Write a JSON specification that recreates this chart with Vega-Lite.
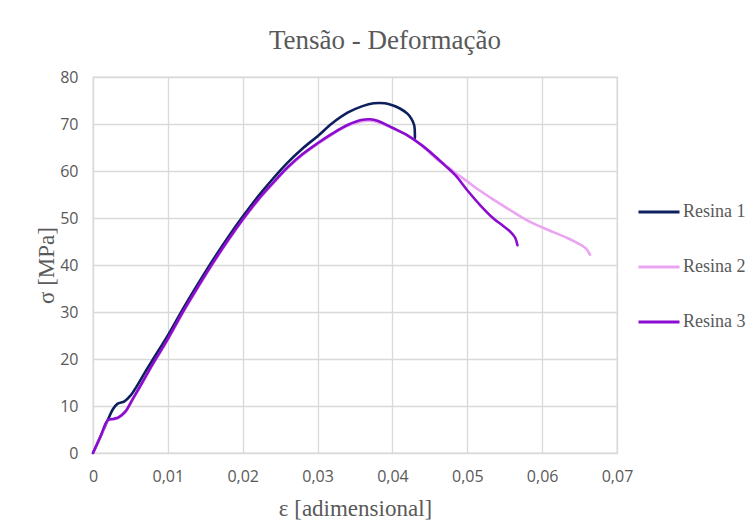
{
  "$schema": "https://vega.github.io/schema/vega-lite/v6.json",
  "width": 524,
  "height": 376,
  "autosize": "none",
  "padding": {"left": 93, "top": 77, "right": 132, "bottom": 76},
  "background": "white",
  "title": {"text": "Tensão - Deformação", "font": "Liberation Serif", "fontSize": 27, "fontWeight": "normal", "color": "#595959", "anchor": "middle", "dx": 30, "offset": 14},
  "datasets": {
    "curvas": [
      {"serie": "Resina 1", "deformacao": 0, "tensao": 0},
      {"serie": "Resina 1", "deformacao": 0.001, "tensao": 3.5},
      {"serie": "Resina 1", "deformacao": 0.002, "tensao": 7.1},
      {"serie": "Resina 1", "deformacao": 0.0027, "tensao": 9.4},
      {"serie": "Resina 1", "deformacao": 0.0033, "tensao": 10.5},
      {"serie": "Resina 1", "deformacao": 0.0042, "tensao": 11.0},
      {"serie": "Resina 1", "deformacao": 0.005, "tensao": 12.2},
      {"serie": "Resina 1", "deformacao": 0.006, "tensao": 14.6},
      {"serie": "Resina 1", "deformacao": 0.007, "tensao": 17.3},
      {"serie": "Resina 1", "deformacao": 0.008, "tensao": 19.9},
      {"serie": "Resina 1", "deformacao": 0.010, "tensao": 25.0},
      {"serie": "Resina 1", "deformacao": 0.012, "tensao": 30.6},
      {"serie": "Resina 1", "deformacao": 0.014, "tensao": 35.9},
      {"serie": "Resina 1", "deformacao": 0.016, "tensao": 41.0},
      {"serie": "Resina 1", "deformacao": 0.018, "tensao": 45.8},
      {"serie": "Resina 1", "deformacao": 0.020, "tensao": 50.3},
      {"serie": "Resina 1", "deformacao": 0.022, "tensao": 54.5},
      {"serie": "Resina 1", "deformacao": 0.024, "tensao": 58.3},
      {"serie": "Resina 1", "deformacao": 0.026, "tensao": 61.8},
      {"serie": "Resina 1", "deformacao": 0.028, "tensao": 64.8},
      {"serie": "Resina 1", "deformacao": 0.030, "tensao": 67.4},
      {"serie": "Resina 1", "deformacao": 0.032, "tensao": 70.2},
      {"serie": "Resina 1", "deformacao": 0.034, "tensao": 72.4},
      {"serie": "Resina 1", "deformacao": 0.036, "tensao": 73.8},
      {"serie": "Resina 1", "deformacao": 0.0375, "tensao": 74.4},
      {"serie": "Resina 1", "deformacao": 0.039, "tensao": 74.4},
      {"serie": "Resina 1", "deformacao": 0.040, "tensao": 74.0},
      {"serie": "Resina 1", "deformacao": 0.041, "tensao": 73.3},
      {"serie": "Resina 1", "deformacao": 0.042, "tensao": 72.2},
      {"serie": "Resina 1", "deformacao": 0.0425, "tensao": 71.2},
      {"serie": "Resina 1", "deformacao": 0.0429, "tensao": 69.8},
      {"serie": "Resina 1", "deformacao": 0.0430, "tensao": 67.0},
      {"serie": "Resina 2", "deformacao": 0, "tensao": 0},
      {"serie": "Resina 2", "deformacao": 0.001, "tensao": 3.4},
      {"serie": "Resina 2", "deformacao": 0.002, "tensao": 6.9},
      {"serie": "Resina 2", "deformacao": 0.0028, "tensao": 7.2},
      {"serie": "Resina 2", "deformacao": 0.0034, "tensao": 7.5},
      {"serie": "Resina 2", "deformacao": 0.0043, "tensao": 8.6},
      {"serie": "Resina 2", "deformacao": 0.0052, "tensao": 11.0},
      {"serie": "Resina 2", "deformacao": 0.006, "tensao": 13.2},
      {"serie": "Resina 2", "deformacao": 0.007, "tensao": 16.0},
      {"serie": "Resina 2", "deformacao": 0.008, "tensao": 18.8},
      {"serie": "Resina 2", "deformacao": 0.010, "tensao": 24.1},
      {"serie": "Resina 2", "deformacao": 0.012, "tensao": 29.8},
      {"serie": "Resina 2", "deformacao": 0.014, "tensao": 35.1},
      {"serie": "Resina 2", "deformacao": 0.016, "tensao": 40.2},
      {"serie": "Resina 2", "deformacao": 0.018, "tensao": 45.0},
      {"serie": "Resina 2", "deformacao": 0.020, "tensao": 49.5},
      {"serie": "Resina 2", "deformacao": 0.022, "tensao": 53.6},
      {"serie": "Resina 2", "deformacao": 0.024, "tensao": 57.2},
      {"serie": "Resina 2", "deformacao": 0.026, "tensao": 60.6},
      {"serie": "Resina 2", "deformacao": 0.028, "tensao": 63.4},
      {"serie": "Resina 2", "deformacao": 0.030, "tensao": 65.7},
      {"serie": "Resina 2", "deformacao": 0.032, "tensao": 67.8},
      {"serie": "Resina 2", "deformacao": 0.034, "tensao": 69.6},
      {"serie": "Resina 2", "deformacao": 0.036, "tensao": 70.6},
      {"serie": "Resina 2", "deformacao": 0.037, "tensao": 70.7},
      {"serie": "Resina 2", "deformacao": 0.038, "tensao": 70.4},
      {"serie": "Resina 2", "deformacao": 0.040, "tensao": 69.1},
      {"serie": "Resina 2", "deformacao": 0.042, "tensao": 67.6},
      {"serie": "Resina 2", "deformacao": 0.044, "tensao": 65.3},
      {"serie": "Resina 2", "deformacao": 0.046, "tensao": 62.4},
      {"serie": "Resina 2", "deformacao": 0.047, "tensao": 61.3},
      {"serie": "Resina 2", "deformacao": 0.048, "tensao": 60.1},
      {"serie": "Resina 2", "deformacao": 0.049, "tensao": 58.9},
      {"serie": "Resina 2", "deformacao": 0.050, "tensao": 57.8},
      {"serie": "Resina 2", "deformacao": 0.0515, "tensao": 56.0},
      {"serie": "Resina 2", "deformacao": 0.0535, "tensao": 53.9},
      {"serie": "Resina 2", "deformacao": 0.0555, "tensao": 51.9},
      {"serie": "Resina 2", "deformacao": 0.058, "tensao": 49.5},
      {"serie": "Resina 2", "deformacao": 0.060, "tensao": 48.0},
      {"serie": "Resina 2", "deformacao": 0.0615, "tensao": 47.0},
      {"serie": "Resina 2", "deformacao": 0.0633, "tensao": 45.8},
      {"serie": "Resina 2", "deformacao": 0.0648, "tensao": 44.6},
      {"serie": "Resina 2", "deformacao": 0.0658, "tensao": 43.6},
      {"serie": "Resina 2", "deformacao": 0.0664, "tensao": 42.2},
      {"serie": "Resina 3", "deformacao": 0, "tensao": 0},
      {"serie": "Resina 3", "deformacao": 0.001, "tensao": 3.5},
      {"serie": "Resina 3", "deformacao": 0.002, "tensao": 7.0},
      {"serie": "Resina 3", "deformacao": 0.0028, "tensao": 7.3},
      {"serie": "Resina 3", "deformacao": 0.0034, "tensao": 7.6},
      {"serie": "Resina 3", "deformacao": 0.0043, "tensao": 8.8},
      {"serie": "Resina 3", "deformacao": 0.0052, "tensao": 11.2},
      {"serie": "Resina 3", "deformacao": 0.006, "tensao": 13.4},
      {"serie": "Resina 3", "deformacao": 0.007, "tensao": 16.2},
      {"serie": "Resina 3", "deformacao": 0.008, "tensao": 19.0},
      {"serie": "Resina 3", "deformacao": 0.010, "tensao": 24.3},
      {"serie": "Resina 3", "deformacao": 0.012, "tensao": 30.0},
      {"serie": "Resina 3", "deformacao": 0.014, "tensao": 35.3},
      {"serie": "Resina 3", "deformacao": 0.016, "tensao": 40.4},
      {"serie": "Resina 3", "deformacao": 0.018, "tensao": 45.2},
      {"serie": "Resina 3", "deformacao": 0.020, "tensao": 49.7},
      {"serie": "Resina 3", "deformacao": 0.022, "tensao": 53.8},
      {"serie": "Resina 3", "deformacao": 0.024, "tensao": 57.4},
      {"serie": "Resina 3", "deformacao": 0.026, "tensao": 60.8},
      {"serie": "Resina 3", "deformacao": 0.028, "tensao": 63.6},
      {"serie": "Resina 3", "deformacao": 0.030, "tensao": 65.9},
      {"serie": "Resina 3", "deformacao": 0.032, "tensao": 68.0},
      {"serie": "Resina 3", "deformacao": 0.034, "tensao": 69.8},
      {"serie": "Resina 3", "deformacao": 0.036, "tensao": 70.9},
      {"serie": "Resina 3", "deformacao": 0.037, "tensao": 71.0},
      {"serie": "Resina 3", "deformacao": 0.038, "tensao": 70.7},
      {"serie": "Resina 3", "deformacao": 0.040, "tensao": 69.2},
      {"serie": "Resina 3", "deformacao": 0.042, "tensao": 67.6},
      {"serie": "Resina 3", "deformacao": 0.044, "tensao": 65.4},
      {"serie": "Resina 3", "deformacao": 0.0455, "tensao": 63.4},
      {"serie": "Resina 3", "deformacao": 0.047, "tensao": 61.2},
      {"serie": "Resina 3", "deformacao": 0.0484, "tensao": 59.1},
      {"serie": "Resina 3", "deformacao": 0.050, "tensao": 55.9},
      {"serie": "Resina 3", "deformacao": 0.0518, "tensao": 52.6},
      {"serie": "Resina 3", "deformacao": 0.0535, "tensao": 49.9},
      {"serie": "Resina 3", "deformacao": 0.0548, "tensao": 48.3},
      {"serie": "Resina 3", "deformacao": 0.0558, "tensao": 47.0},
      {"serie": "Resina 3", "deformacao": 0.0564, "tensao": 45.8},
      {"serie": "Resina 3", "deformacao": 0.0567, "tensao": 44.2}
    ]
  },
  "data": {"name": "curvas"},
  "mark": {"type": "line", "strokeWidth": 2.6, "interpolate": "catmull-rom", "strokeCap": "round", "strokeJoin": "round"},
  "encoding": {
    "x": {
      "field": "deformacao", "type": "quantitative",
      "scale": {"domain": [0, 0.07], "nice": false, "zero": true},
      "axis": {
        "title": "ε [adimensional]",
        "values": [0, 0.01, 0.02, 0.03, 0.04, 0.05, 0.06, 0.07],
        "labelExpr": "replace(format(datum.value, '.2~f'), '.', ',')",
        "labelFlush": false,
        "labelPadding": 15,
        "titlePadding": 13
      }
    },
    "y": {
      "field": "tensao", "type": "quantitative",
      "scale": {"domain": [0, 80], "nice": false},
      "axis": {
        "title": "σ [MPa]",
        "values": [0, 10, 20, 30, 40, 50, 60, 70, 80],
        "labelFlush": false,
        "labelPadding": 15,
        "titlePadding": 1
      }
    },
    "color": {
      "field": "serie", "type": "nominal",
      "scale": {"domain": ["Resina 1", "Resina 2", "Resina 3"], "range": ["#0d1f5c", "#eaa4f2", "#8a0ccf"]},
      "legend": {
        "title": null,
        "orient": "none",
        "legendX": 544,
        "legendY": 113,
        "symbolType": "stroke",
        "symbolSize": 1681,
        "symbolStrokeWidth": 3,
        "labelFont": "Liberation Serif",
        "labelFontSize": 18,
        "labelColor": "#595959",
        "labelOffset": 2,
        "rowPadding": 24
      }
    },
    "order": {"value": null}
  },
  "config": {
    "view": {"stroke": "#d9d9d9", "strokeWidth": 1.3},
    "axis": {
      "grid": true,
      "gridColor": "#d9d9d9",
      "gridWidth": 1.3,
      "domain": false,
      "ticks": false,
      "labelFont": "Open Sans",
      "labelFontSize": 16,
      "labelColor": "#595959",
      "titleFont": "Liberation Serif",
      "titleFontSize": 23,
      "titleFontWeight": "normal",
      "titleColor": "#595959"
    }
  }
}
